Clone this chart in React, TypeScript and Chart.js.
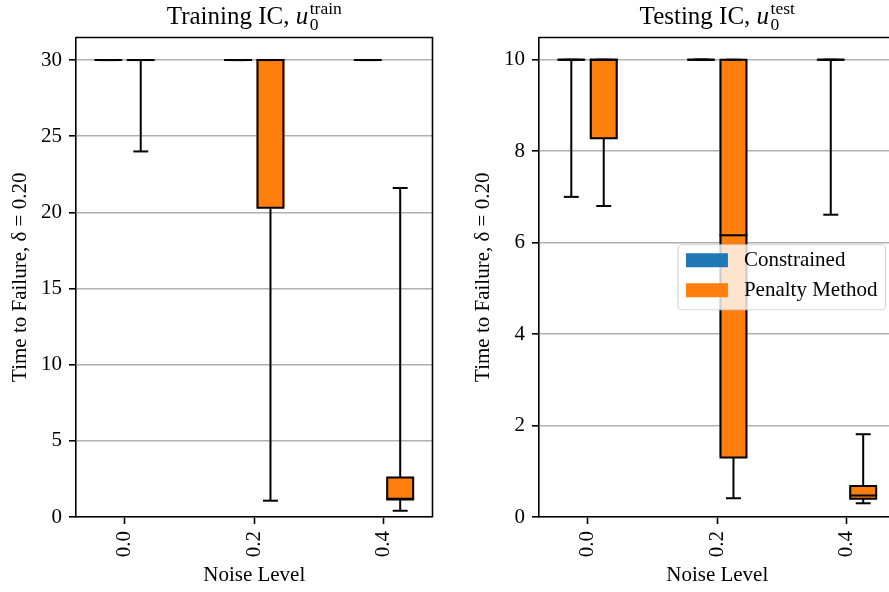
import React, { useEffect, useRef } from 'react';
import { Chart, registerables } from 'chart.js';

Chart.register(...registerables);

const SERIF = "'Liberation Serif', 'Times New Roman', serif";

// ---------- data ----------
const noiseLevels = [0.0, 0.2, 0.4];
const noiseTickLabels = ['0.0', '0.2', '0.4'];
const seriesNames = ['Constrained', 'Penalty Method'];
const seriesColors = ['#1f77b4', '#ff7f0e'];

const trainYTicks = [0, 5, 10, 15, 20, 25, 30];
const testYTicks = [0, 2, 4, 6, 8, 10];

// Training IC
const trainConstrainedMin = [30, 30, 30];
const trainConstrainedQ1 = [30, 30, 30];
const trainConstrainedMedian = [30, 30, 30];
const trainConstrainedQ3 = [30, 30, 30];
const trainConstrainedMax = [30, 30, 30];

const trainPenaltyMin = [24.0, 1.07, 0.41];
const trainPenaltyQ1 = [30, 20.3, 1.15];
const trainPenaltyMedian = [30, 30, 1.2];
const trainPenaltyQ3 = [30, 30, 2.6];
const trainPenaltyMax = [30, 30, 21.6];

// Testing IC
const testConstrainedMin = [7.0, 10, 6.61];
const testConstrainedQ1 = [10, 10, 10];
const testConstrainedMedian = [10, 10, 10];
const testConstrainedQ3 = [10, 10, 10];
const testConstrainedMax = [10, 10, 10];

const testPenaltyMin = [6.8, 0.41, 0.3];
const testPenaltyQ1 = [8.28, 1.3, 0.4];
const testPenaltyMedian = [10, 6.16, 0.47];
const testPenaltyQ3 = [10, 10, 0.68];
const testPenaltyMax = [10, 10, 1.81];

const trainTitle = { text: 'Training IC, ', variable: 'u', sub: '0', sup: 'train' };
const testTitle = { text: 'Testing IC, ', variable: 'u', sub: '0', sup: 'test' };
const yAxisTitle = 'Time to Failure, \u03b4 = 0.20';
const xAxisTitle = 'Noise Level';

const trainYMax = 31.48;
const testYMax = 10.485;

type Box = { min: number[]; q1: number[]; med: number[]; q3: number[]; max: number[] };

const trainSeries: Box[] = [
  { min: trainConstrainedMin, q1: trainConstrainedQ1, med: trainConstrainedMedian, q3: trainConstrainedQ3, max: trainConstrainedMax },
  { min: trainPenaltyMin, q1: trainPenaltyQ1, med: trainPenaltyMedian, q3: trainPenaltyQ3, max: trainPenaltyMax },
];
const testSeries: Box[] = [
  { min: testConstrainedMin, q1: testConstrainedQ1, med: testConstrainedMedian, q3: testConstrainedQ3, max: testConstrainedMax },
  { min: testPenaltyMin, q1: testPenaltyQ1, med: testPenaltyMedian, q3: testPenaltyQ3, max: testPenaltyMax },
];

// ---------- layout ----------
const CANVAS_W = 444;
const CANVAS_H = 592;
const Y_AXIS_W = 76;
const X_AXIS_H = 75;
const PAD_TOP = 37.5;
const PAD_RIGHT = 11.5;
const CAT_PCT = 0.5;
const BAR_PCT = 0.86;
const FONT_SIZE = 21;
const TITLE_SIZE = 25;

function makeDatasets(series: Box[]) {
  const ds: any[] = [];
  series.forEach((s, k) => {
    ds.push({
      label: seriesNames[k],
      boxStats: s,
      stack: 's' + k,
      data: noiseLevels.map((x, j) => ({ x, y: [s.q1[j], s.q3[j]] })),
      backgroundColor: seriesColors[k],
      borderWidth: 0,
      inflateAmount: 0,
      categoryPercentage: CAT_PCT,
      barPercentage: BAR_PCT,
    });
  });
  series.forEach((s, k) => {
    ds.push({
      label: seriesNames[k] + ' lower whisker',
      stack: 's' + k,
      data: noiseLevels.map((x, j) => ({ x, y: [s.min[j], s.q1[j]] })),
      backgroundColor: '#000000',
      borderWidth: 0,
      inflateAmount: 0,
      maxBarThickness: 2,
      categoryPercentage: CAT_PCT,
      barPercentage: BAR_PCT,
    });
    ds.push({
      label: seriesNames[k] + ' upper whisker',
      stack: 's' + k,
      data: noiseLevels.map((x, j) => ({ x, y: [s.q3[j], s.max[j]] })),
      backgroundColor: '#000000',
      borderWidth: 0,
      inflateAmount: 0,
      maxBarThickness: 2,
      categoryPercentage: CAT_PCT,
      barPercentage: BAR_PCT,
    });
  });
  return ds;
}

// box outlines, caps and medians, placed from each bar element and the y scale
const boxExtrasPlugin = {
  id: 'boxExtras',
  afterDatasetsDraw(chart: any) {
    const ctx = chart.ctx;
    const y = chart.scales.y;
    chart.data.datasets.forEach((ds: any, i: number) => {
      if (!ds.boxStats) return;
      const meta = chart.getDatasetMeta(i);
      meta.data.forEach((el: any, j: number) => {
        const p = el.getProps(['x', 'width'], true);
        const cx = p.x;
        const w = p.width;
        const inner = w - 2;
        ctx.save();
        ctx.strokeStyle = '#000000';
        ctx.lineWidth = 2;
        ctx.lineCap = 'butt';
        // caps
        const capHalf = inner / 4 + 1;
        [ds.boxStats.min[j], ds.boxStats.max[j]].forEach((v: number) => {
          const yy = y.getPixelForValue(v);
          ctx.beginPath();
          ctx.moveTo(cx - capHalf, yy);
          ctx.lineTo(cx + capHalf, yy);
          ctx.stroke();
        });
        // box outline
        const y1 = y.getPixelForValue(ds.boxStats.q1[j]);
        const y3 = y.getPixelForValue(ds.boxStats.q3[j]);
        ctx.beginPath();
        ctx.rect(cx - inner / 2, y3, inner, y1 - y3);
        ctx.closePath();
        ctx.stroke();
        // median
        const ym = y.getPixelForValue(ds.boxStats.med[j]);
        ctx.beginPath();
        ctx.moveTo(cx - w / 2, ym);
        ctx.lineTo(cx + w / 2, ym);
        ctx.stroke();
        ctx.restore();
      });
    });
  },
};

const framePlugin = {
  id: 'frameExtras',
  afterDraw(chart: any, _args: any, opts: any) {
    const ctx = chart.ctx;
    const ca = chart.chartArea;
    ctx.save();
    // top and right spines
    ctx.strokeStyle = '#000000';
    ctx.lineWidth = 1.6;
    ctx.beginPath();
    ctx.moveTo(ca.left, ca.top);
    ctx.lineTo(ca.right, ca.top);
    ctx.lineTo(ca.right, ca.bottom);
    ctx.stroke();

    // title with sub/superscript
    const t = opts.title;
    if (t) {
      const big = TITLE_SIZE;
      const small = 17.5;
      ctx.font = `${big}px ${SERIF}`;
      const w1 = ctx.measureText(t.text).width;
      ctx.font = `italic ${big}px ${SERIF}`;
      const w2 = ctx.measureText(t.variable).width;
      ctx.font = `${small}px ${SERIF}`;
      const w3 = Math.max(ctx.measureText(t.sub).width, ctx.measureText(t.sup).width);
      const total = w1 + w2 + 1.5 + w3;
      let x = (ca.left + ca.right) / 2 - total / 2;
      const base = opts.titleBaseline;
      ctx.fillStyle = '#000000';
      ctx.textBaseline = 'alphabetic';
      ctx.textAlign = 'left';
      ctx.font = `${big}px ${SERIF}`;
      ctx.fillText(t.text, x, base);
      x += w1;
      ctx.font = `italic ${big}px ${SERIF}`;
      ctx.fillText(t.variable, x, base);
      x += w2 + 1.5;
      ctx.font = `${small}px ${SERIF}`;
      ctx.fillText(t.sub, x, base + 6);
      ctx.fillText(t.sup, x, base - 10);
    }

    // legend
    if (opts.legend) {
      ctx.font = `${FONT_SIZE}px ${SERIF}`;
      const textW = Math.max(...seriesNames.map((n) => ctx.measureText(n).width));
      const pad = 8;
      const handleW = 42;
      const handleH = 14;
      const gap = 16;
      const W = pad + handleW + gap + textW + pad;
      const H = 65;
      const right = ca.right - 10;
      const left = right - W;
      const top = (ca.top + ca.bottom) / 2 - H / 2;
      ctx.beginPath();
      (ctx as any).roundRect(left, top, W, H, 4);
      ctx.fillStyle = 'rgba(255,255,255,0.8)';
      ctx.fill();
      ctx.strokeStyle = 'rgba(204,204,204,0.8)';
      ctx.lineWidth = 1.2;
      ctx.stroke();
      seriesNames.forEach((n, k) => {
        const cy = top + 15.5 + k * 30;
        ctx.fillStyle = seriesColors[k];
        ctx.fillRect(left + pad, cy - handleH / 2, handleW, handleH);
        ctx.fillStyle = '#000000';
        ctx.textBaseline = 'middle';
        ctx.textAlign = 'left';
        ctx.fillText(n, left + pad + handleW + gap, cy + 0.5);
      });
    }
    ctx.restore();
  },
};

function makeConfig(series: Box[], yTicks: number[], yMax: number, title: any, legend: boolean): any {
  const tickFont = { family: SERIF, size: FONT_SIZE };
  return {
    type: 'bar',
    data: { datasets: makeDatasets(series) },
    plugins: [boxExtrasPlugin, framePlugin],
    options: {
      responsive: false,
      animation: false,
      devicePixelRatio: 1,
      layout: { padding: { top: PAD_TOP, right: PAD_RIGHT, left: 0, bottom: 0 } },
      plugins: {
        legend: { display: false },
        tooltip: { enabled: false },
        title: { display: false },
        frameExtras: { title, legend, titleBaseline: 24 },
      },
      scales: {
        x: {
          type: 'linear',
          min: -0.0748,
          max: 0.4748,
          offset: false,
          afterBuildTicks: (s: any) => {
            s.ticks = noiseLevels.map((v) => ({ value: v }));
          },
          afterFit: (s: any) => {
            s.height = X_AXIS_H;
          },
          ticks: {
            autoSkip: false,
            minRotation: 90,
            maxRotation: 90,
            padding: 7,
            color: '#000000',
            font: tickFont,
            callback: (_v: any, i: number) => noiseTickLabels[i],
          },
          grid: {
            offset: false,
            drawOnChartArea: false,
            drawTicks: true,
            tickLength: 7,
            tickWidth: 1.6,
            tickColor: '#000000',
            color: '#000000',
          },
          border: { display: true, color: '#000000', width: 1.6, z: 1 },
          title: {
            display: true,
            text: xAxisTitle,
            color: '#000000',
            font: { family: SERIF, size: FONT_SIZE },
            padding: { top: 0, bottom: 4 },
          },
        },
        y: {
          type: 'linear',
          min: 0,
          max: yMax,
          stacked: false,
          afterBuildTicks: (s: any) => {
            s.ticks = yTicks.map((v) => ({ value: v }));
          },
          afterFit: (s: any) => {
            s.width = Y_AXIS_W;
          },
          ticks: {
            padding: 7,
            color: '#000000',
            font: tickFont,
            callback: (v: any) => String(v),
          },
          grid: {
            color: '#b0b0b0',
            lineWidth: 1.6,
            drawTicks: true,
            tickLength: 7,
            tickWidth: 1.6,
            tickColor: '#000000',
          },
          border: { display: true, color: '#000000', width: 1.6, z: 1 },
          title: {
            display: true,
            text: yAxisTitle,
            color: '#000000',
            font: { family: SERIF, size: FONT_SIZE },
            padding: { top: 8, bottom: 0 },
          },
        },
      },
    },
  };
}

function BoxChart(props: { series: Box[]; yTicks: number[]; yMax: number; title: any; legend: boolean; left: number }) {
  const ref = useRef<HTMLCanvasElement | null>(null);
  useEffect(() => {
    if (!ref.current) return;
    const chart = new Chart(ref.current, makeConfig(props.series, props.yTicks, props.yMax, props.title, props.legend));
    return () => chart.destroy();
  }, []);
  return (
    <canvas
      ref={ref}
      width={CANVAS_W}
      height={CANVAS_H}
      style={{ position: 'absolute', left: props.left, top: 0, width: CANVAS_W, height: CANVAS_H }}
    />
  );
}

export default function App() {
  return (
    <div
      style={{
        position: 'absolute',
        left: 0,
        top: 0,
        width: 889,
        height: 592,
        overflow: 'hidden',
        background: '#ffffff',
      }}
    >
      <BoxChart series={trainSeries} yTicks={trainYTicks} yMax={trainYMax} title={trainTitle} legend={false} left={0} />
      <BoxChart series={testSeries} yTicks={testYTicks} yMax={testYMax} title={testTitle} legend={true} left={463} />
    </div>
  );
}
